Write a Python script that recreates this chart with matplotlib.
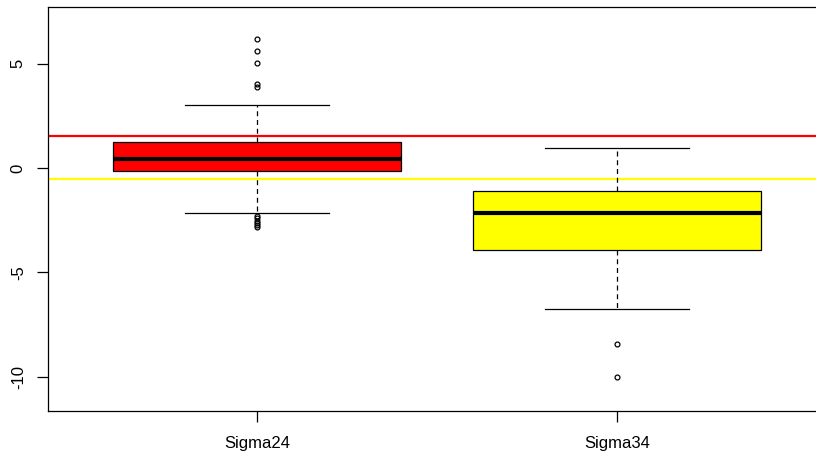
import matplotlib
matplotlib.use("Agg")
import matplotlib.pyplot as plt

plt.rcParams['font.family'] = ['Liberation Sans', 'DejaVu Sans']

labels = ["Sigma24", "Sigma34"]
box_colors = ["red", "yellow"]
q1 = [-0.14, -3.93]
med = [0.43, -2.16]
q3 = [1.25, -1.10]
whislo = [-2.16, -6.76]
whishi = [3.02, 0.96]
fliers = [
    [6.19, 5.62, 5.05, 4.03, 3.88, -2.30, -2.42, -2.52, -2.62, -2.72, -2.82],
    [-8.44, -10.02],
]
ref_red = 1.53
ref_yellow = -0.53

stats = []
for i in range(len(labels)):
    stats.append({
        "label": labels[i], "q1": q1[i], "med": med[i], "q3": q3[i],
        "whislo": whislo[i], "whishi": whishi[i], "fliers": fliers[i],
    })

fig = plt.figure(figsize=(8.16, 4.58), dpi=100)
ax = fig.add_axes([48 / 816, 47 / 458, 790 / 816, 404 / 458])

ax.axhline(ref_red, color="red", lw=1.6, zorder=1)
ax.axhline(ref_yellow, color="yellow", lw=1.6, zorder=1)

bp = ax.bxp(
    stats, positions=[1, 2], widths=0.8, patch_artist=True,
    boxprops=dict(edgecolor="black", linewidth=0.9),
    medianprops=dict(color="black", linewidth=3),
    whiskerprops=dict(color="black", linewidth=0.9, linestyle=(0, (4, 3))),
    capprops=dict(color="black", linewidth=0.9),
    flierprops=dict(marker="o", markersize=3.5, markerfacecolor="none",
                    markeredgecolor="black", markeredgewidth=0.9),
    capwidths=0.4, zorder=2,
)
for patch, c in zip(bp["boxes"], box_colors):
    patch.set_facecolor(c)

ax.set_xlim(0.4194, 2.614)
ax.set_ylim(-11.65, 7.72)
ax.set_yticks([-10, -5, 0, 5])
ax.set_yticklabels(["-10", "-5", "0", "5"], rotation=90, va="center")
ax.set_xticks([1, 2])
ax.set_xticklabels(labels)
ax.tick_params(direction="out", length=8, width=0.9, labelsize=12, pad=8)
ax.tick_params(axis="x", pad=10)
for s in ax.spines.values():
    s.set_linewidth(0.9)

fig.savefig("out.png", dpi=100)
plt.close()
